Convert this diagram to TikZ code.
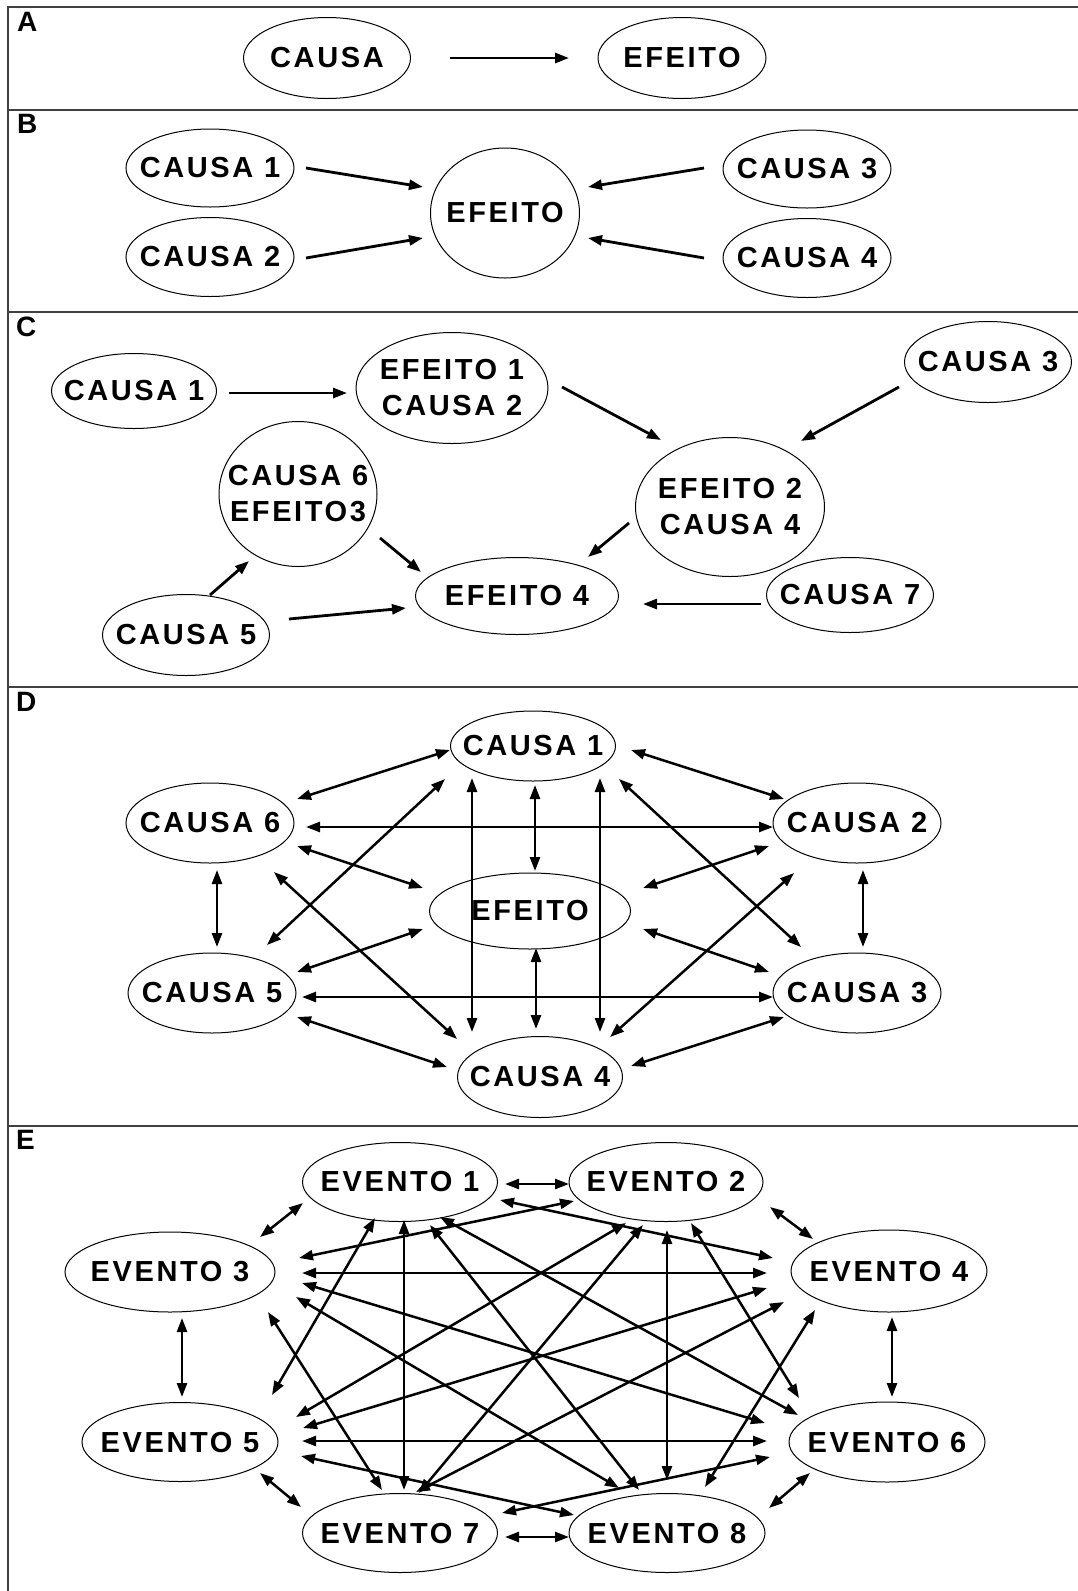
\documentclass[tikz,border=0pt]{standalone}
\usepackage{fontspec}
\usetikzlibrary{shapes.geometric,arrows.meta,calc}
\newfontfamily\nodefont{Liberation Sans}[LetterSpace=9]
\newfontfamily\panelfont{Liberation Sans}
\tikzset{
  elli/.style={ellipse, draw, line width=1pt, inner sep=0pt},
  ntext/.style={font=\nodefont\bfseries\fontsize{29}{36}\selectfont, align=center, inner sep=0pt},
  plab/.style={font=\panelfont\bfseries\fontsize{28}{30}\selectfont, anchor=north west, inner sep=0pt},
  framel/.style={line width=1.8pt, black!75},
  arr/.style={line width=2.8pt, ->},
  darr/.style={line width=2.5pt, <->},
}
\newcommand\ellnode[6]{%
  \node[elli, minimum width=#4pt, minimum height=#5pt] (#1) at (#2,#3) {};
  \node[ntext] (#1t) at (#1) {#6};}
\newcommand\conn[5]{\draw[#1] ($(#2)+(#3)$) -- ($(#4)+(#5)$);}
\begin{document}
\begin{tikzpicture}[x=1pt, y=-1pt, >={Triangle[length=14pt,width=10pt]}]
\useasboundingbox (0,0) rectangle (1078,1591);
% frame
\draw[framel] (8,1591) -- (8,7) -- (1078,7);
\draw[framel] (8,110) -- (1078,110);
\draw[framel] (8,312) -- (1078,312);
\draw[framel] (8,687) -- (1078,687);
\draw[framel] (8,1126) -- (1078,1126);
\node[plab] (la) at (17,12) {A};
\node[plab] (lb) at (17,114) {B};
\node[plab] (lc) at (16,317) {C};
\node[plab] (ld) at (16,692) {D};
\node[plab] (le) at (16,1130) {E};
% ---------- A
\ellnode{ca}{327}{58}{167}{81}{CAUSA}
\ellnode{ea}{682}{58}{168}{81}{EFEITO}
\conn{arr}{ca}{123,0}{ea}{-113,0}
% ---------- B
\ellnode{bc1}{210}{168}{168}{78}{CAUSA 1}
\ellnode{bc2}{210}{257}{168}{79}{CAUSA 2}
\ellnode{bef}{505}{213}{149}{130}{EFEITO}
\ellnode{bc3}{807}{169}{168}{78}{CAUSA 3}
\ellnode{bc4}{807}{258}{168}{79}{CAUSA 4}
\conn{arr}{bc1}{96,0}{bef}{-82,-26}
\conn{arr}{bc2}{96,1}{bef}{-82,25}
\conn{arr}{bc3}{-103,-1}{bef}{83,-26}
\conn{arr}{bc4}{-103,0}{bef}{83,25}
% ---------- C
\ellnode{cc1}{134}{391}{165}{75}{CAUSA 1}
\ellnode{ce1}{452}{388}{192}{111}{EFEITO 1\\CAUSA 2}
\ellnode{cc3}{988}{362}{167}{81}{CAUSA 3}
\ellnode{cc6}{298}{494}{158}{145}{CAUSA 6\\EFEITO3}
\ellnode{ce2}{730}{507}{189}{139}{EFEITO 2\\CAUSA 4}
\ellnode{ce4}{517}{596}{203}{77}{EFEITO 4}
\ellnode{cc7}{850}{595}{167}{75}{CAUSA 7}
\ellnode{cc5}{186}{635}{167}{81}{CAUSA 5}
\conn{arr}{cc1}{95,2}{ce1}{-105,5}
\conn{arr}{ce1}{110,-1}{ce2}{-69,-67}
\conn{arr}{cc3}{-89,25}{ce2}{71,-66}
\conn{arr}{ce2}{-101,16}{ce4}{71,-39}
\conn{arr}{cc6}{82,44}{ce4}{-96,-24}
\conn{arr}{cc5}{24,-40}{cc6}{-49,67}
\conn{arr}{cc5}{103,-16}{ce4}{-111,12}
\conn{arr}{cc7}{-89,9}{ce4}{126,8}
% ---------- D
\ellnode{d1}{533}{746}{165}{70}{CAUSA 1}
\ellnode{d6}{210}{823}{168}{80}{CAUSA 6}
\ellnode{d2}{857}{823}{168}{80}{CAUSA 2}
\ellnode{def}{530}{911}{201}{76}{EFEITO}
\ellnode{d5}{212}{993}{168}{80}{CAUSA 5}
\ellnode{d3}{857}{993}{168}{80}{CAUSA 3}
\ellnode{d4}{540}{1077}{165}{81}{CAUSA 4}
\conn{darr}{d1}{-83,4}{d6}{87,-24}
\conn{darr}{d1}{98,4}{d2}{-73,-24}
\conn{darr}{d6}{96,4}{d2}{-84,4}
\conn{darr}{d1}{2,39}{def}{5,-40}
\conn{darr}{d1}{-61,32}{d4}{-68,-45}
\conn{darr}{d1}{67,32}{d4}{60,-45}
\conn{darr}{d1}{-88,33}{d5}{55,-48}
\conn{darr}{d1}{86,33}{d3}{-56,-46}
\conn{darr}{d6}{87,23}{def}{-107,-23}
\conn{darr}{d2}{-88,23}{def}{113,-23}
\conn{darr}{d6}{64,49}{d4}{-83,-38}
\conn{darr}{d2}{-63,50}{d4}{70,-40}
\conn{darr}{d6}{7,47}{d5}{5,-46}
\conn{darr}{d2}{6,47}{d3}{6,-46}
\conn{darr}{def}{-107,18}{d5}{85,-21}
\conn{darr}{def}{113,18}{d3}{-88,-21}
\conn{darr}{def}{6,37}{d4}{-4,-48}
\conn{darr}{d5}{90,4}{d3}{-84,4}
\conn{darr}{d5}{85,24}{d4}{-93,-10}
\conn{darr}{d3}{-73,24}{d4}{91,-11}
% ---------- E
\ellnode{e1}{400}{1182}{195}{79}{EVENTO 1}
\ellnode{e2}{666}{1182}{194}{79}{EVENTO 2}
\ellnode{e3}{170}{1272}{210}{80}{EVENTO 3}
\ellnode{e4}{889}{1271}{196}{82}{EVENTO 4}
\ellnode{e5}{180}{1442}{196}{79}{EVENTO 5}
\ellnode{e6}{887}{1442}{196}{80}{EVENTO 6}
\ellnode{e7}{400}{1533}{195}{79}{EVENTO 7}
\ellnode{e8}{667}{1533}{196}{79}{EVENTO 8}
\conn{darr}{e1}{105,2}{e2}{-97,2}
\conn{darr}{e7}{105,4}{e8}{-98,4}
\conn{darr}{e1}{-97,21}{e3}{90,-35}
\conn{darr}{e2}{104,25}{e4}{-76,-32}
\conn{darr}{e3}{12,46}{e5}{2,-45}
\conn{darr}{e4}{3,46}{e6}{5,-45}
\conn{darr}{e5}{80,31}{e7}{-99,-26}
\conn{darr}{e6}{-77,31}{e8}{102,-25}
\conn{darr}{e1}{100,18}{e4}{-116,-13}
\conn{darr}{e2}{-92,19}{e3}{129,-14}
\conn{darr}{e3}{132,1}{e4}{-122,2}
\conn{darr}{e1}{-25,36}{e5}{92,-47}
\conn{darr}{e1}{4,38}{e7}{4,-43}
\conn{darr}{e1}{30,43}{e8}{-28,-43}
\conn{darr}{e1}{40,35}{e6}{-89,-27}
\conn{darr}{e2}{-40,41}{e5}{116,-25}
\conn{darr}{e2}{-23,43}{e7}{19,-40}
\conn{darr}{e2}{1,48}{e8}{0,-53}
\conn{darr}{e2}{25,41}{e6}{-88,-44}
\conn{darr}{e3}{132,11}{e6}{-122,-19}
\conn{darr}{e3}{126,25}{e8}{-48,-45}
\conn{darr}{e3}{98,40}{e7}{-18,-43}
\conn{darr}{e4}{-122,17}{e5}{123,-14}
\conn{darr}{e4}{-105,31}{e7}{16,-41}
\conn{darr}{e4}{-74,39}{e8}{38,-46}
\conn{darr}{e5}{122,-1}{e6}{-120,-1}
\conn{darr}{e5}{121,14}{e8}{-93,-18}
\conn{darr}{e6}{-117,15}{e7}{102,-20}
\end{tikzpicture}
\end{document}
